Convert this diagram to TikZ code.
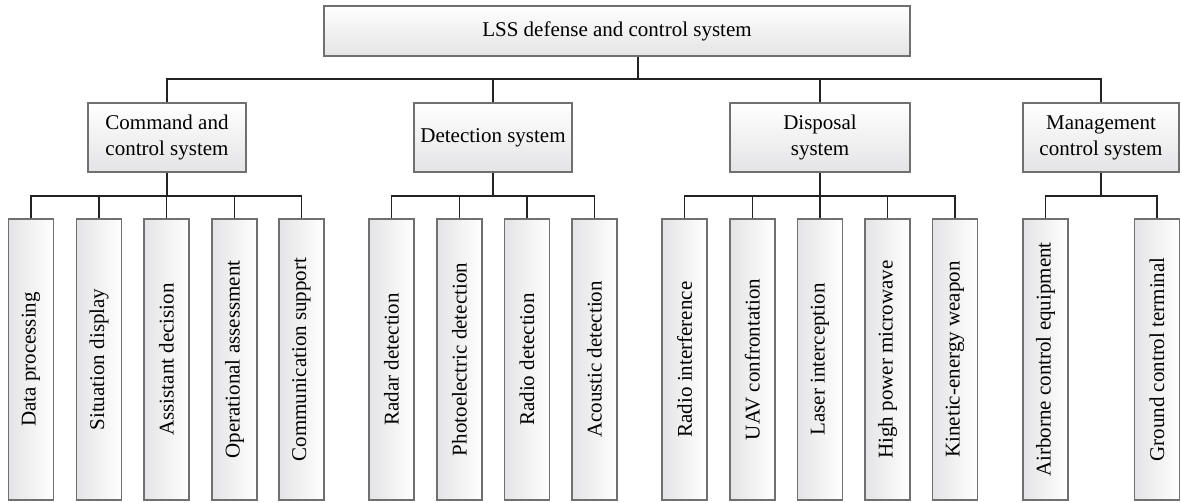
\documentclass[tikz,border=0pt]{standalone}
\usepackage{fontspec}
\setmainfont{Liberation Serif}
\definecolor{boxline}{HTML}{707070}
\definecolor{wire}{HTML}{222222}
\definecolor{shadelow}{HTML}{E4E4E6}
\begin{document}
\begin{tikzpicture}[x=1pt,y=1pt,
  box/.style={draw=boxline, line width=1.1pt, top color=white, bottom color=shadelow,
    inner sep=0pt, align=center, font=\fontsize{21}{26}\selectfont},
  leaf/.style={draw=boxline, line width=1.1pt, left color=shadelow, right color=white,
    inner sep=0pt, rotate=90, minimum width=281pt, minimum height=45pt,
    font=\fontsize{21}{26}\selectfont},
  wires/.style={draw=wire, line width=1.1pt}]
\useasboundingbox (0,0) rectangle (1181,-503);
% top
\node[box, minimum width=586pt, minimum height=50pt] (top) at (617,-31) {LSS defense and control system};
% second level
\node[box, minimum width=158pt, minimum height=69pt] (cmd) at (167,-137.5) {Command and\\control system};
\node[box, minimum width=158pt, minimum height=69pt] (det) at (493,-137.5) {Detection system};
\node[box, minimum width=180pt, minimum height=69pt] (disp) at (820,-137.5) {Disposal\\system};
\node[box, minimum width=156pt, minimum height=69pt] (mgmt) at (1101,-137.5) {Management\\control system};
% leaves
\node[leaf] (c1) at (31,-359.5) {Data processing};
\node[leaf] (c2) at (99,-359.5) {Situation display};
\node[leaf] (c3) at (166.5,-359.5) {Assistant decision};
\node[leaf] (c4) at (234.5,-359.5) {Operational assessment};
\node[leaf] (c5) at (301.5,-359.5) {Communication support};
\node[leaf] (d1) at (391.5,-359.5) {Radar detection};
\node[leaf] (d2) at (459.5,-359.5) {Photoelectric detection};
\node[leaf] (d3) at (527,-359.5) {Radio detection};
\node[leaf] (d4) at (594.5,-359.5) {Acoustic detection};
\node[leaf] (p1) at (684.5,-359.5) {Radio interference};
\node[leaf] (p2) at (752.5,-359.5) {UAV confrontation};
\node[leaf] (p3) at (820,-359.5) {Laser interception};
\node[leaf] (p4) at (887.5,-359.5) {High power microwave};
\node[leaf] (p5) at (955,-359.5) {Kinetic-energy weapon};
\node[leaf] (m1) at (1045.5,-359.5) {Airborne control equipment};
\node[leaf] (m2) at (1157,-359.5) {Ground control terminal};
% connectors
\coordinate (bus) at (638,-79);
\path[wires] (top.south -| bus) -- (bus);
\path[wires] (cmd.north) |- (bus) -| (mgmt.north);
\path[wires] (det.north) -- (det.north |- bus);
\path[wires] (disp.north) -- (disp.north |- bus);
\coordinate (sub) at (0,-196);
% command
\path[wires] (cmd.south) -- (cmd.south |- sub);
\path[wires] (c1.east) |- (sub -| c3.east) -| (c5.east);
\path[wires] (c2.east) -- (c2.east |- sub);
\path[wires] (c3.east) -- (c3.east |- sub);
\path[wires] (c4.east) -- (c4.east |- sub);
% detection
\path[wires] (det.south) -- (det.south |- sub);
\path[wires] (d1.east) |- (sub -| d2.east) -| (d4.east);
\path[wires] (d2.east) -- (d2.east |- sub);
\path[wires] (d3.east) -- (d3.east |- sub);
% disposal
\path[wires] (disp.south) -- (disp.south |- sub);
\path[wires] (p1.east) |- (sub -| p3.east) -| (p5.east);
\path[wires] (p2.east) -- (p2.east |- sub);
\path[wires] (p3.east) -- (p3.east |- sub);
\path[wires] (p4.east) -- (p4.east |- sub);
% management
\path[wires] (mgmt.south) -- (mgmt.south |- sub);
\path[wires] (m1.east) |- (sub -| mgmt.south) -| (m2.east);
\end{tikzpicture}
\end{document}
